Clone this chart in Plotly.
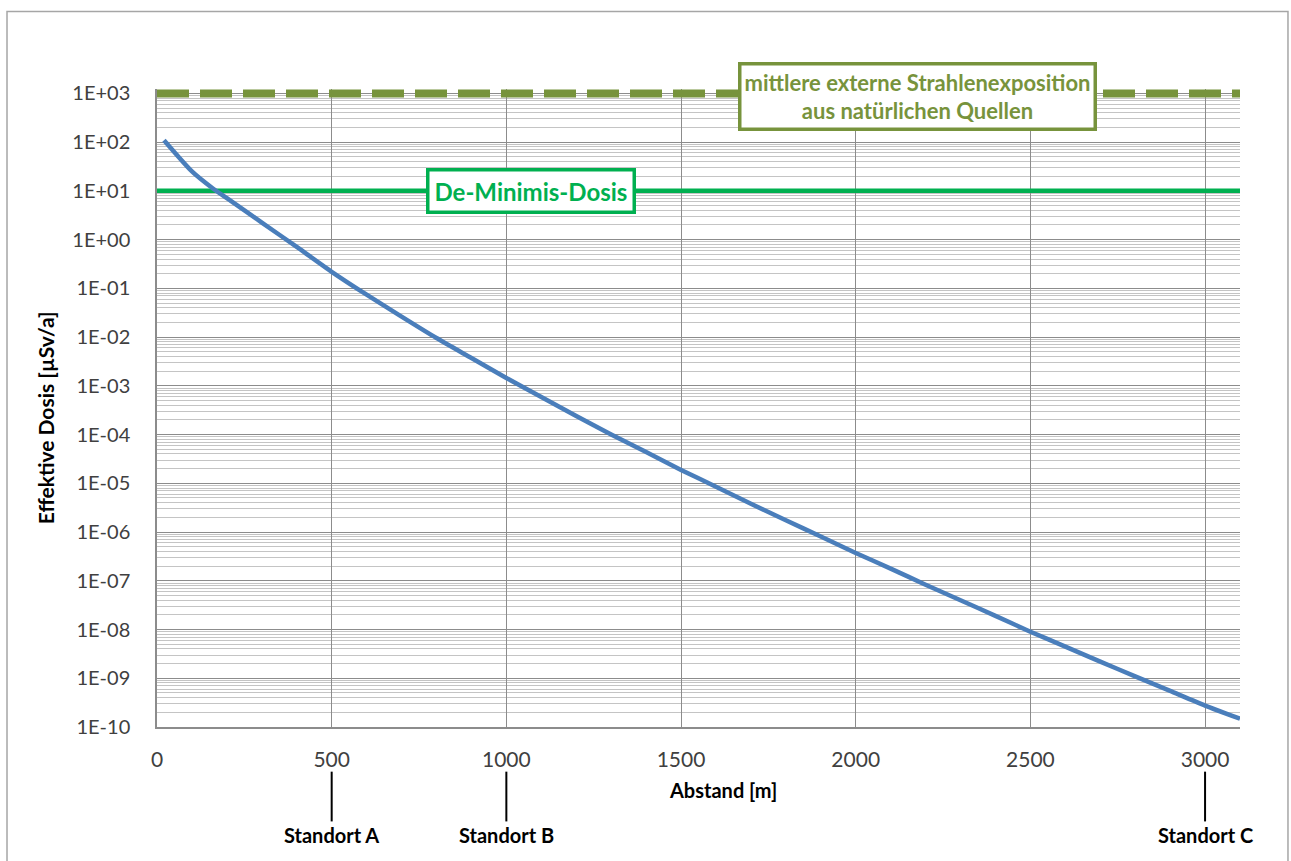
import plotly.graph_objects as go

# Data
abstand_m = [20, 100, 160, 200, 300, 400, 500, 600, 700, 800, 900, 1000,
             1100, 1200, 1300, 1400, 1500, 1600, 1700, 1800, 1900, 2000,
             2100, 2200, 2300, 2400, 2500, 2600, 2700, 2800, 2900, 3000, 3100]
log_dosis = [2.04, 1.40, 1.05, 0.85, 0.35, -0.15, -0.66, -1.13, -1.58, -2.02, -2.43, -2.84,
             -3.23, -3.62, -4.00, -4.36, -4.725, -5.07, -5.42, -5.76, -6.09, -6.43,
             -6.75, -7.08, -7.40, -7.72, -8.045, -8.35, -8.66, -8.96, -9.26, -9.56, -9.83]
dosis = [10 ** v for v in log_dosis]

de_minimis = 10.0
natuerlich = 1000.0

x_ticks = [0, 500, 1000, 1500, 2000, 2500, 3000]
y_exps = list(range(3, -11, -1))
y_tickvals = [10.0 ** e for e in y_exps]
y_ticktext = ["1E+%02d" % e if e >= 0 else "1E-%02d" % (-e) for e in y_exps]

standorte = ["Standort A", "Standort B", "Standort C"]
standort_x = [500, 1000, 3000]

FONT = "Lato"
OLIVE = "#77933C"
GREEN = "#00B050"
BLUE = "#4A7EBB"

fig = go.Figure()

fig.add_trace(go.Scatter(x=[0, 3100], y=[natuerlich, natuerlich], mode="lines",
                         line=dict(color=OLIVE, width=8, dash="32px,11px"),
                         hoverinfo="skip", showlegend=False))
fig.add_trace(go.Scatter(x=[0, 3100], y=[de_minimis, de_minimis], mode="lines",
                         line=dict(color=GREEN, width=4.5),
                         hoverinfo="skip", showlegend=False))
fig.add_trace(go.Scatter(x=abstand_m, y=dosis, mode="lines",
                         line=dict(color=BLUE, width=4.5, shape="spline", smoothing=0.6),
                         showlegend=False))

fig.update_layout(
    width=1291, height=861,
    margin=dict(l=157, r=51, t=89, b=134),
    paper_bgcolor="white", plot_bgcolor="white",
    font=dict(family=FONT, size=18, color="#404040"),
    xaxis=dict(range=[0, 3100], tickvals=x_ticks, showgrid=True,
               gridcolor="#8C8C8C", gridwidth=1,
               showline=True, linecolor="#8C8C8C", linewidth=1.5,
               zeroline=False, ticks="", ticklabelstandoff=13,
               tickfont=dict(family=FONT, size=21, color="#404040")),
    yaxis=dict(type="log", range=[-10, 3.09], tickvals=y_tickvals, ticktext=y_ticktext,
               showgrid=True, gridcolor="#8C8C8C", gridwidth=1.2,
               minor=dict(dtick="D1", showgrid=True, gridcolor="#C4C4C4", gridwidth=1, ticks=""),
               showline=True, linecolor="#8C8C8C", linewidth=1.5,
               zeroline=False, ticks="", ticklabelstandoff=21,
               tickfont=dict(family=FONT, size=20, color="#404040")),
)

# Outer frame
fig.add_shape(type="rect", xref="paper", yref="paper",
              x0=-0.1385, x1=1.0443, y0=-0.25, y1=1.1215,
              line=dict(color="#A6A6A6", width=1.5), layer="below")

# Axis titles
fig.add_annotation(text="<b>Abstand [m]</b>", xref="paper", yref="paper",
                   x=0.5226, y=-0.098, showarrow=False, yanchor="middle", xanchor="center",
                   font=dict(family=FONT, size=20, color="#000000"))
fig.add_annotation(text="<b>Effektive Dosis [µSv/a]</b>", xref="paper", yref="paper",
                   x=-0.1034, y=0.484, showarrow=False, textangle=-90,
                   yanchor="middle", xanchor="center",
                   font=dict(family=FONT, size=21, color="#000000"))

# Line labels
fig.add_annotation(text="<b>mittlere externe Strahlenexposition<br>aus natürlichen Quellen</b>",
                   xref="x", yref="paper", x=2178, y=0.9884, showarrow=False,
                   yanchor="middle", xanchor="center",
                   font=dict(family=FONT, size=22, color=OLIVE),
                   bgcolor="white", bordercolor=OLIVE, borderwidth=3.5, borderpad=3)
fig.add_annotation(text="<b>De-Minimis-Dosis</b>",
                   xref="x", yref="paper", x=1071, y=0.8405, showarrow=False,
                   yanchor="middle", xanchor="center",
                   font=dict(family=FONT, size=24, color=GREEN),
                   bgcolor="white", bordercolor=GREEN, borderwidth=3.5, borderpad=5)

# Standort markers
for name, sx in zip(standorte, standort_x):
    fig.add_shape(type="line", xref="x", yref="paper", x0=sx, x1=sx,
                  y0=-0.07, y1=-0.148, line=dict(color="#000000", width=2))
    fig.add_annotation(text="<b>%s</b>" % name, xref="x", yref="paper",
                       x=sx, y=-0.169, showarrow=False, yanchor="middle", xanchor="center",
                       font=dict(family=FONT, size=20, color="#000000"))

fig.write_html("out.html")
